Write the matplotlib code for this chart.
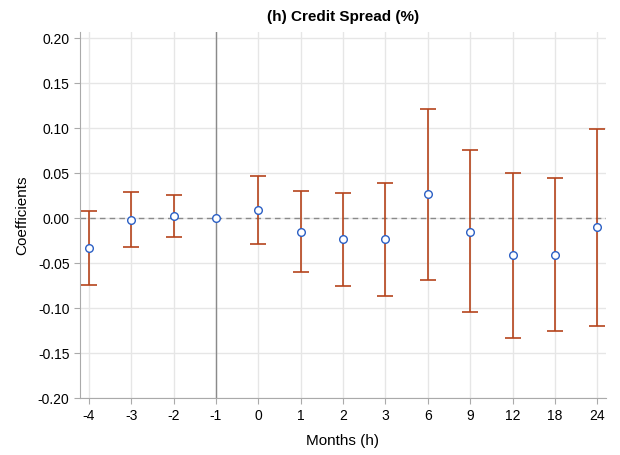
import matplotlib

matplotlib.use("Agg")
import matplotlib.pyplot as plt
import numpy as np

# event-study horizons and estimates
horizons = ["-4", "-3", "-2", "-1", "0", "1", "2", "3", "6", "9", "12", "18", "24"]
coef = [-0.033, -0.002, 0.002, 0.0, 0.0093, -0.015, -0.0236, -0.0236, 0.0263, -0.015, -0.0413, -0.0406, -0.0103]
ci_low = [-0.074, -0.032, -0.0206, 0.0, -0.0284, -0.060, -0.0754, -0.0865, -0.0687, -0.1045, -0.133, -0.1256, -0.1204]
ci_high = [0.008, 0.029, 0.0255, 0.0, 0.047, 0.0307, 0.0277, 0.039, 0.1216, 0.0754, 0.0503, 0.0448, 0.099]
y_ticks = [-0.20, -0.15, -0.10, -0.05, 0.00, 0.05, 0.10, 0.15, 0.20]

plt.rcParams["font.family"] = ["Liberation Sans", "DejaVu Sans"]

x = np.arange(len(horizons))
coef = np.array(coef)
lo = np.array(ci_low)
hi = np.array(ci_high)

fig = plt.figure(figsize=(6.2, 4.55), dpi=100)
ax = fig.add_axes([0.129, 0.125, 0.848, 0.805])
ax.set_axisbelow(True)

ax.grid(True, color="#e6e6e6", linewidth=1.0)
ax.axhline(0, color="#8a8a8a", linestyle=(0, (4, 3)), linewidth=1.0, zorder=2)
ax.axvline(3, color="#8a8a8a", linewidth=1.0, zorder=2)

mask = hi > lo
ax.errorbar(
    x[mask], coef[mask],
    yerr=[coef[mask] - lo[mask], hi[mask] - coef[mask]],
    fmt="none", ecolor="#b5441c", elinewidth=1.2, capsize=5.5, capthick=1.2, zorder=3,
)
ax.plot(x, coef, linestyle="none", marker="o", markersize=5.5, markerfacecolor="white",
        markeredgecolor="#2b5fc4", markeredgewidth=1.0, zorder=4)

ax.set_xlim(-0.21, 12.2)
ax.set_ylim(-0.20, 0.207)
ax.set_xticks(x)
ax.set_xticklabels(horizons)
ax.set_yticks(y_ticks)
ax.set_yticklabels([f"{v:.2f}" if abs(v) > 1e-9 else "0.00" for v in y_ticks])
ax.tick_params(axis="both", labelsize=10, length=4, color="#aaaaaa")

for side in ("top", "right"):
    ax.spines[side].set_visible(False)
for side in ("left", "bottom"):
    ax.spines[side].set_color("#aaaaaa")

ax.set_title("(h) Credit Spread (%)", fontsize=11, fontweight="bold", pad=8)
ax.set_xlabel("Months (h)", fontsize=11, labelpad=8)
ax.set_ylabel("Coefficients", fontsize=11, labelpad=6)

fig.savefig("out.png", dpi=100)
